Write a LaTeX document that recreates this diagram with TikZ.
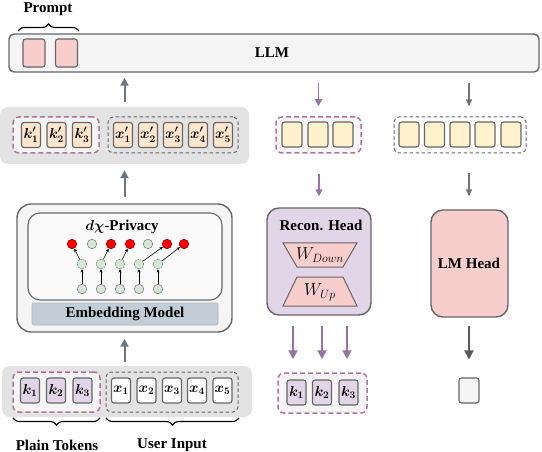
\documentclass[tikz,border=0pt]{standalone}
\usepackage{fontspec}
\setmainfont{Liberation Serif}
\usetikzlibrary{arrows.meta,decorations.pathreplacing,calc}
\definecolor{panelgray}{HTML}{E3E3E3}
\definecolor{tokborder}{HTML}{666666}
\definecolor{peach}{HTML}{FFE6CC}
\definecolor{kpurple}{HTML}{E1D5E7}
\definecolor{yel}{HTML}{FFF2CC}
\definecolor{pinkfill}{HTML}{F8CECC}
\definecolor{lightfill}{HTML}{F5F5F5}
\definecolor{pinkdash}{HTML}{B5739D}
\definecolor{purarrow}{HTML}{9673A6}
\definecolor{bgarrow}{HTML}{6B7785}
\definecolor{embbar}{HTML}{C2CDD8}
\definecolor{greenc}{HTML}{D5E8D4}
\begin{document}
\begin{tikzpicture}[x=1pt,y=-1pt,
  lbl/.style={font=\fontsize{15}{18}\selectfont\bfseries, inner sep=0},
  tok/.style={draw=tokborder, line width=1.1pt, rounded corners=2.5pt, inner sep=0,
    minimum width=19pt, minimum height=25pt, font=\fontsize{14}{16}\selectfont\boldmath},
  panel/.style={fill=panelgray, rounded corners=8pt, inner sep=0},
  pinkbox/.style={draw=pinkdash, dash pattern=on 5pt off 3pt, line width=1.5pt, fill=lightfill, rounded corners=6pt, inner sep=0},
  graybox/.style={draw=tokborder, dash pattern=on 3.5pt off 2.5pt, line width=1pt, rounded corners=5pt, inner sep=0},
  bigbox/.style={draw=tokborder, line width=1.4pt, rounded corners=12pt, inner sep=0},
  uparr/.style={draw=bgarrow, line width=2pt, -{Triangle[length=8pt,width=8pt]}},
  purarr/.style={draw=purarrow, line width=1.6pt, -{Triangle[length=7pt,width=7pt]}},
  purarrb/.style={draw=purarrow, line width=2pt, -{Triangle[length=9pt,width=9pt]}},
  grarr/.style={draw=gray!90!black, line width=1.3pt, -{Triangle[length=7pt,width=6pt]}},
  dkarr/.style={draw=black!65, line width=2pt, -{Triangle[length=9pt,width=9pt]}},
  redc/.style={circle, fill=red, draw=red!60!black, line width=0.6pt, minimum size=9.5pt, inner sep=0},
  grc/.style={circle, fill=greenc, draw=gray, line width=0.6pt, minimum size=9.5pt, inner sep=0},
  grcd/.style={grc, dash pattern=on 1.5pt off 1pt},
  narr/.style={draw=black, line width=0.6pt, -{Stealth[length=3.5pt,width=3pt]}},
  brc/.style={draw=black, line width=1.1pt, decorate, decoration={brace, amplitude=7pt}}
]
\useasboundingbox (0,0) rectangle (542,452);

% LLM
\node[draw=tokborder, line width=1.4pt, fill=lightfill, rounded corners=5pt, minimum width=530pt, minimum height=38pt, inner sep=0] (llm) at (274,53) {};
\node[lbl] (llmlbl) at (272,53) {LLM};
\node[tok, fill=pinkfill, minimum width=22pt, minimum height=28pt] (p1) at (34,53) {};
\node[tok, fill=pinkfill, minimum width=22pt, minimum height=28pt] (p2) at (66.5,53) {};
\draw[brc] (18,31) -- (79,31);
\node[lbl] (prompt) at (48,9) {Prompt};

% top left panel
\node[panel, minimum width=249pt, minimum height=57pt] (tpanel) at (124.5,135.5) {};
\node[pinkbox, minimum width=86pt, minimum height=36pt] (tpink) at (56,135) {};
\node[graybox, minimum width=130pt, minimum height=36pt] (tgray) at (173,135) {};
\node[tok, fill=peach] (kp1) at (31,135) {$k'_1$};
\node[tok, fill=peach] (kp2) at (56.5,135) {$k'_2$};
\node[tok, fill=peach] (kp3) at (82,135) {$k'_3$};
\node[tok, fill=peach] (xp1) at (123,135) {$x'_1$};
\node[tok, fill=peach] (xp2) at (148,135) {$x'_2$};
\node[tok, fill=peach] (xp3) at (173,135) {$x'_3$};
\node[tok, fill=peach] (xp4) at (198,135) {$x'_4$};
\node[tok, fill=peach] (xp5) at (223,135) {$x'_5$};

% embedding model
\node[bigbox, fill=lightfill, minimum width=215pt, minimum height=128pt, rounded corners=14pt] (emb) at (124.5,268) {};
\node[draw=tokborder, line width=1.1pt, fill=lightfill!50!white, rounded corners=12pt, minimum width=194pt, minimum height=87pt, inner sep=0] (inner) at (125,256.5) {};
\node[draw=gray!60, line width=0.6pt, fill=embbar, rounded corners=2pt, minimum width=186pt, minimum height=22pt, lbl] (bar) at (125,314) {Embedding Model};
\node[lbl, font=\fontsize{15}{18}\selectfont\bfseries\boldmath] (dx) at (122,227) {$d\chi$-Privacy};

% network
\foreach \i/\x/\s in {1/72/redc,2/92/grc,3/111/redc,4/130/redc,5/148/grc,6/167/redc,7/184/redc}
  \node[\s] (r\i) at (\x,244) {};
\foreach \i/\x in {1/82,2/101,3/120,4/139,5/158} {
  \node[grcd] (d\i) at (\x,264) {};
  \node[grc] (s\i) at (\x,289) {};
  \draw[narr] (s\i) -- (d\i);
}
\draw[narr] (d1) -- (r1);
\draw[narr] (d2) -- (r3);
\draw[narr] (d3) -- (r4);
\draw[narr] (d4) -- (r6);
\draw[narr] (d5) -- (r7);

% bottom left panel
\node[panel, minimum width=250pt, minimum height=51pt] (bpanel) at (127,391.5) {};
\node[pinkbox, minimum width=87pt, minimum height=40pt] (bpink) at (56.5,392) {};
\node[graybox, minimum width=132pt, minimum height=40pt] (bgray) at (172,392) {};
\node[tok, fill=kpurple] (k1) at (30,390.5) {$k_1$};
\node[tok, fill=kpurple] (k2) at (56,390.5) {$k_2$};
\node[tok, fill=kpurple] (k3) at (82.5,390.5) {$k_3$};
\node[tok, fill=white] (x1) at (121,390.5) {$x_1$};
\node[tok, fill=white] (x2) at (146.5,390.5) {$x_2$};
\node[tok, fill=white] (x3) at (172,390.5) {$x_3$};
\node[tok, fill=white] (x4) at (197,390.5) {$x_4$};
\node[tok, fill=white] (x5) at (222.5,390.5) {$x_5$};
\draw[brc] (100,418) -- (13,418);
\draw[brc] (239,418) -- (106,418);
\node[lbl] (plain) at (57,445) {Plain Tokens};
\node[lbl] (user) at (172,445) {User Input};

% left arrows
\draw[uparr, shorten <=4pt, shorten >=6pt] (bpanel.north -| emb) -- (emb.south);
\draw[uparr, shorten <=6pt, shorten >=6pt] (emb.north) -- (tpanel.south -| emb);
\draw[uparr, shorten <=5pt, shorten >=5pt] (tpanel.north -| emb) -- (llm.south -| emb);

% middle column
\node[pinkbox, minimum width=85pt, minimum height=36pt] (mpink) at (318.5,135) {};
\node[tok, fill=yel, minimum width=20pt] (y1) at (292,134.5) {};
\node[tok, fill=yel, minimum width=20pt] (y2) at (318,134.5) {};
\node[tok, fill=yel, minimum width=20pt] (y3) at (343,134.5) {};
\node[bigbox, fill=kpurple, minimum width=104pt, minimum height=107pt] (recon) at (319,261.5) {};
\node[lbl] (reconlbl) at (321,225) {Recon. Head};
\filldraw[fill=pinkfill, draw=tokborder, line width=1pt] (283,243) -- (357,243) -- (343,267) -- (297,267) -- cycle;
\filldraw[fill=pinkfill, draw=tokborder, line width=1pt] (297,277) -- (343,277) -- (357,306) -- (283,306) -- cycle;
\node[font=\fontsize{17}{19}\selectfont, inner sep=0] (wd) at (320,255) {$W_{Down}$};
\node[font=\fontsize{17}{19}\selectfont, inner sep=0] (wu) at (320,292) {$W_{Up}$};
\node[pinkbox, minimum width=89pt, minimum height=40pt] (rpink) at (322.5,393) {};
\node[tok, fill=kpurple] (rk1) at (296.5,392.5) {$k_1$};
\node[tok, fill=kpurple] (rk2) at (322,392.5) {$k_2$};
\node[tok, fill=kpurple] (rk3) at (348.5,392.5) {$k_3$};
\coordinate (ca) at (293,0);
\coordinate (cb) at (347,0);
\draw[purarr, shorten <=10pt, shorten >=10pt] (llm.south -| mpink) -- (mpink.north);
\draw[purarr, shorten <=20pt, shorten >=11pt] (mpink.south -| recon) -- (recon.north);
\draw[purarrb, shorten <=10pt, shorten >=13pt] (recon.south -| ca) -- (rpink.north -| ca);
\draw[purarrb, shorten <=10pt, shorten >=13pt] (recon.south -| rk2) -- (rpink.north -| rk2);
\draw[purarrb, shorten <=10pt, shorten >=13pt] (recon.south -| cb) -- (rpink.north -| cb);

% right column
\node[graybox, minimum width=132pt, minimum height=36pt] (rgray) at (460,135) {};
\foreach \i/\x in {1/409,2/434.5,3/460,4/485,5/511}
  \node[tok, fill=yel, minimum width=20pt] (yy\i) at (\x,134.5) {};
\node[bigbox, fill=pinkfill, minimum width=77pt, minimum height=107pt] (lmh) at (469.5,263.5) {};
\node[lbl] (lmhlbl) at (469,263) {LM Head};
\node[tok, fill=lightfill, minimum width=20pt] (out) at (469,390.5) {};
\draw[grarr, shorten <=10pt, shorten >=10pt] (llm.south -| out) -- (rgray.north -| out);
\draw[grarr, shorten <=20pt, shorten >=13pt] (rgray.south -| out) -- (lmh.north -| out);
\draw[dkarr, shorten <=8pt, shorten >=18pt] (lmh.south -| out) -- (out.north);
\end{tikzpicture}
\end{document}
